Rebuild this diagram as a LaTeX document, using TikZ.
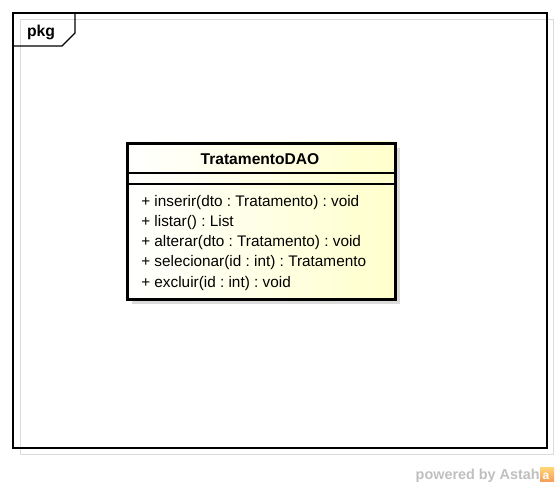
\documentclass[tikz,border=0pt]{standalone}
\usepackage{fontspec}
\setmainfont{Liberation Sans}
\frenchspacing
\begin{document}
\begin{tikzpicture}[x=0.75pt,y=-0.75pt,
  meth/.style={anchor=base west,inner sep=0pt,font=\frenchspacing\fontsize{11.5pt}{13pt}\selectfont},
  shadowline/.style={draw=black!14,line width=0.75pt}]
\useasboundingbox (0,0) rectangle (560,488);
% frame shadow and frame
\draw[shadowline] (20,20) rectangle (553,454);
\draw[line width=0.8pt,fill=none] (13,13) rectangle (547,448);
\draw[line width=0.8pt] (75,13) -- (75,33) -- (62,46) -- (13,46);
\node[inner sep=0pt,anchor=base,font=\bfseries\fontsize{11.8pt}{13pt}\selectfont] (pkg) at (41,37) {pkg};
% class shadow
\fill[black!14] (132,148) rectangle (400,304);
% class box
\shade[left color=white,right color={rgb,255:red,255;green,255;blue,204}] (126,142) rectangle (394,298);
\node[draw,line width=2.25pt,minimum width=268*0.75pt,minimum height=156*0.75pt,inner sep=0pt,anchor=north west] (cls) at (126,142) {};
\draw[line width=0.8pt] (126,173) -- (394,173);
\draw[line width=0.8pt] (126,184) -- (394,184);
\node[anchor=base,inner sep=0pt,font=\bfseries\fontsize{11.7pt}{13pt}\selectfont] (title) at (260,164.5) {TratamentoDAO};
\node[meth] (m1) at (141,207) {+ inserir(dto : Tratamento) : void};
\node[meth] (m2) at (141,227) {+ listar() : List};
\node[meth] (m3) at (141,247) {+ alterar(dto : Tratamento) : void};
\node[meth] (m4) at (141,267) {+ selecionar(id : int) : Tratamento};
\node[meth] (m5) at (141,287) {+ excluir(id : int) : void};
% powered by
\node[anchor=base east,inner sep=0pt,text=black!25,font=\bfseries\fontsize{10.8pt}{12pt}\selectfont] (pw) at (540,479) {powered by Astah};
\shade[top color={rgb,255:red,255;green,215;blue,120},bottom color={rgb,255:red,245;green,160;blue,90}] (540,467) rectangle (554,481);
\node[inner sep=0pt,text=white,font=\bfseries\fontsize{9pt}{10pt}\selectfont] (ic) at (546,476) {a};
\end{tikzpicture}
\end{document}
